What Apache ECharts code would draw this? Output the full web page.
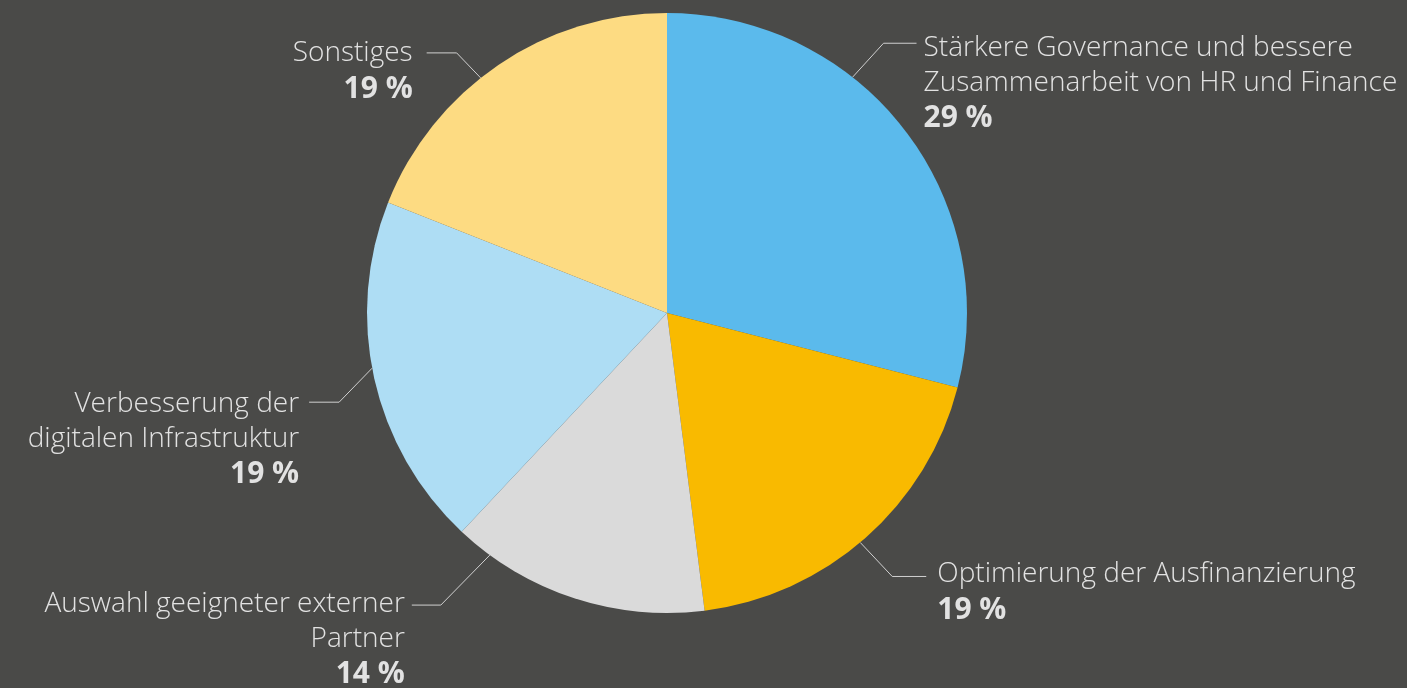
<!DOCTYPE html>
<html><head><meta charset="utf-8">
<script src="https://cdn.jsdelivr.net/npm/echarts@6/dist/echarts.min.js"></script>
<style>html,body{margin:0;padding:0;background:#4a4a48;}#c{width:1407px;height:688px;}</style>
</head><body><div id="c"></div>
<script>
// ---- data ----
const categories = [
  'Stärkere Governance und bessere\nZusammenarbeit von HR und Finance',
  'Optimierung der Ausfinanzierung',
  'Auswahl geeigneter externer\nPartner',
  'Verbesserung der\ndigitalen Infrastruktur',
  'Sonstiges'
];
const values = [29, 19, 14, 19, 19];
const colors = ['#5bbaec', '#f9ba00', '#dadada', '#aeddf4', '#fddb82'];

// ---- layout ----
const CX = 667, CY = 313, R = 300;
const labelPlacement = [
  {angle: 38.2,  ex: 31,  ey: -34, len: 33, gap: 7,  dy: 4,  side: 'right'},
  {angle: 139.9, ex: 32,  ey: 34,  len: 34, gap: 11, dy: -3, side: 'right'},
  {angle: 216.2, ex: -49, ey: 50,  len: 29, gap: 7,  dy: -2, side: 'left'},
  {angle: 259.4, ex: -33, ey: 34,  len: 30, gap: 10, dy: 1,  side: 'left'},
  {angle: 321.6, ex: -24, ey: -25, len: 30, gap: 14, dy: 0,  side: 'left'}
];
const FONT = '"Open Sans", "Noto Sans", sans-serif';
const TEXT = '#e2e2e2';

const chart = echarts.init(document.getElementById('c'), null, {renderer: 'canvas'});
chart.setOption({
  backgroundColor: '#4a4a48',
  animation: false,
  series: [{
    type: 'pie',
    center: [CX, CY],
    radius: R,
    startAngle: 90,
    clockwise: true,
    avoidLabelOverlap: false,
    emphasis: {disabled: true},
    data: categories.map((n, i) => ({
      name: n, value: values[i],
      itemStyle: {color: colors[i]},
      label: {align: labelPlacement[i].side === 'right' ? 'left' : 'right'}
    })),
    label: {
      show: true,
      position: 'outside',
      formatter: p => p.name.split('\n').map(s => '{n|' + s + '}').join('\n') + '\n{p|' + p.value + ' %}',
      rich: {
        n: {fontFamily: FONT, fontSize: 28, fontWeight: 300, color: TEXT, lineHeight: 35},
        p: {fontFamily: FONT, fontSize: 30, fontWeight: 'bold', color: TEXT, lineHeight: 37}
      }
    },
    labelLine: {show: true, lineStyle: {color: '#d0d0d0', width: 1}},
    labelLayout: function (p) {
      const L = labelPlacement[p.dataIndex];
      const a = L.angle * Math.PI / 180;
      const sx = CX + R * Math.sin(a), sy = CY - R * Math.cos(a);
      const ex = sx + L.ex, ey = sy + L.ey;
      const dir = L.side === 'right' ? 1 : -1;
      const hx = ex + dir * L.len;
      return {
        x: hx + dir * L.gap,
        y: ey - 17 + L.dy,
        align: L.side === 'right' ? 'left' : 'right',
        verticalAlign: 'top',
        labelLinePoints: [[sx, sy], [ex, ey], [hx, ey]]
      };
    }
  }]
});
</script></body></html>
